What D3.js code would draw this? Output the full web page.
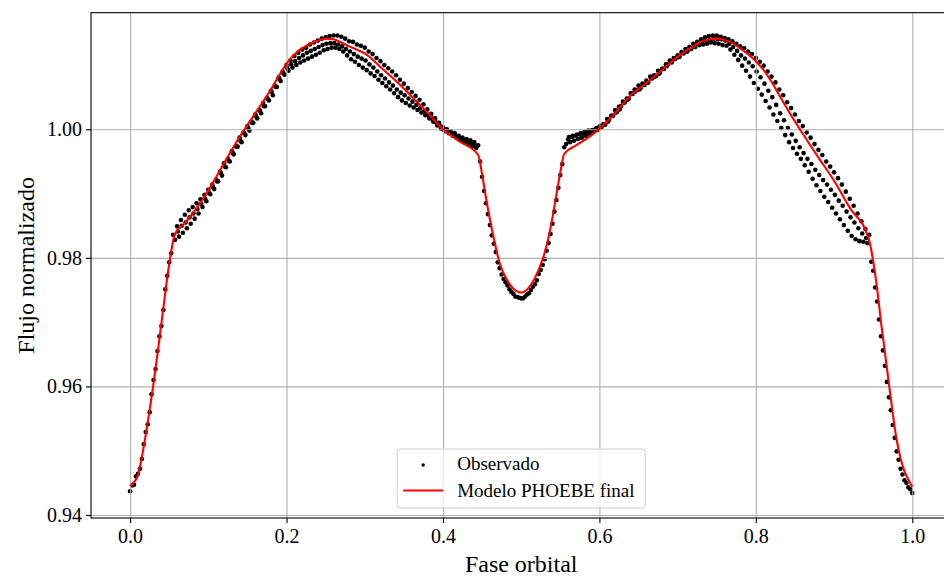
<!DOCTYPE html>
<html>
<head>
<meta charset="utf-8">
<script src="https://cdn.jsdelivr.net/npm/d3@7"></script>
<style>
  body { margin: 0; background: #fff; }
  svg { display: block; font-family: "Liberation Serif", "DejaVu Serif", serif; }
</style>
</head>
<body>
<div id="chart"></div>
<script>
// phase, normalized flux (three observed cycles)
const observedA = [[0,.9437],[.005,.9447],[.01,.9464],[.015,.9487],[.02,.9529],[.025,.9560],[.03,.9610],[.035,.9655],[.04,.9694],[.045,.9751],[.05,.9793],[.055,.9836],[.06,.9849],[.065,.9859],[.07,.9867],[.075,.9874],[.08,.9879],[.085,.9885],[.09,.9891],[.095,.9898],[.1,.9906],[.105,.9914],[.11,.9922],[.115,.9934],[.12,.9947],[.125,.9954],[.13,.9966],[.135,.9974],[.14,.9987],[.145,.9995],[.15,1.0005],[.155,1.0012],[.16,1.0023],[.165,1.0030],[.17,1.0041],[.175,1.0049],[.18,1.0060],[.185,1.0068],[.19,1.0081],[.195,1.0090],[.2,1.0100],[.205,1.0107],[.21,1.0114],[.215,1.0119],[.22,1.0124],[.225,1.0127],[.23,1.0132],[.235,1.0135],[.24,1.0138],[.245,1.0141],[.25,1.0143],[.255,1.0145],[.26,1.0146],[.265,1.0146],[.27,1.0144],[.275,1.0141],[.28,1.0137],[.285,1.0136],[.29,1.0132],[.295,1.0130],[.3,1.0127],[.305,1.0121],[.31,1.0117],[.315,1.0111],[.32,1.0106],[.325,1.0100],[.33,1.0095],[.335,1.0090],[.34,1.0084],[.345,1.0077],[.35,1.0071],[.355,1.0064],[.36,1.0058],[.365,1.0052],[.37,1.0046],[.375,1.0039],[.38,1.0031],[.385,1.0024],[.39,1.0017],[.395,1.0010],[.4,1.0003],[.405,1.0000],[.41,.9997],[.415,.9994],[.42,.9990],[.425,.9987],[.43,.9985],[.435,.9983],[.44,.9980],[.445,.9975],[.45,.9926],[.455,.9885],[.46,.9851],[.465,.9822],[.47,.9793],[.475,.9774],[.48,.9762],[.485,.9751],[.49,.9744],[.495,.9739],[.5,.9737],[.505,.9740],[.51,.9745],[.515,.9755],[.52,.9765],[.525,.9781],[.53,.9798],[.535,.9823],[.54,.9853],[.545,.9890],[.55,.9929],[.555,.9972],[.56,.9984],[.565,.9988],[.57,.9990],[.575,.9992],[.58,.9993],[.585,.9995],[.59,.9997],[.595,1.0000],[.6,1.0004],[.605,1.0008],[.61,1.0016],[.615,1.0021],[.62,1.0030],[.625,1.0035],[.63,1.0043],[.635,1.0048],[.64,1.0056],[.645,1.0062],[.65,1.0068],[.655,1.0071],[.66,1.0076],[.665,1.0082],[.67,1.0084],[.675,1.0091],[.68,1.0094],[.685,1.0101],[.69,1.0107],[.695,1.0111],[.7,1.0115],[.705,1.0120],[.71,1.0125],[.715,1.0128],[.72,1.0133],[.725,1.0136],[.73,1.0140],[.735,1.0143],[.74,1.0145],[.745,1.0146],[.75,1.0146],[.755,1.0144],[.76,1.0142],[.765,1.0140],[.77,1.0137],[.775,1.0133],[.78,1.0129],[.785,1.0126],[.79,1.0121],[.795,1.0117],[.8,1.0111],[.805,1.0105],[.81,1.0099],[.815,1.0090],[.82,1.0082],[.825,1.0073],[.83,1.0062],[.835,1.0053],[.84,1.0042],[.845,1.0033],[.85,1.0023],[.855,1.0013],[.86,1.0005],[.865,.9995],[.87,.9987],[.875,.9977],[.88,.9968],[.885,.9960],[.89,.9950],[.895,.9942],[.9,.9933],[.905,.9924],[.91,.9914],[.915,.9903],[.92,.9892],[.925,.9881],[.93,.9869],[.935,.9857],[.94,.9845],[.945,.9836],[.95,.9780],[.955,.9732],[.96,.9678],[.965,.9632],[.97,.9583],[.975,.9540],[.98,.9499],[.985,.9472],[.99,.9454],[.995,.9443],[1,.9434]];

const observedB = [[.0025,.9446],[.0075,.9460],[.0125,.9472],[.0175,.9510],[.0225,.9541],[.0275,.9588],[.0325,.9627],[.0375,.9678],[.0425,.9719],[.0475,.9772],[.0525,.9807],[.0575,.9828],[.0625,.9833],[.0675,.9839],[.0725,.9846],[.0775,.9853],[.0825,.9861],[.0875,.9869],[.0925,.9879],[.0975,.9888],[.1025,.9899],[.1075,.9907],[.1125,.9919],[.1175,.9928],[.1225,.9941],[.1275,.9950],[.1325,.9961],[.1375,.9973],[.1425,.9980],[.1475,.9991],[.1525,.9998],[.1575,1.0010],[.1625,1.0017],[.1675,1.0025],[.1725,1.0036],[.1775,1.0045],[.1825,1.0053],[.1875,1.0066],[.1925,1.0075],[.1975,1.0085],[.2025,1.0091],[.2075,1.0096],[.2125,1.0100],[.2175,1.0104],[.2225,1.0107],[.2275,1.0110],[.2325,1.0113],[.2375,1.0116],[.2425,1.0119],[.2475,1.0123],[.2525,1.0125],[.2575,1.0127],[.2625,1.0127],[.2675,1.0125],[.2725,1.0121],[.2775,1.0115],[.2825,1.0109],[.2875,1.0105],[.2925,1.0100],[.2975,1.0096],[.3025,1.0092],[.3075,1.0087],[.3125,1.0083],[.3175,1.0077],[.3225,1.0072],[.3275,1.0067],[.3325,1.0062],[.3375,1.0056],[.3425,1.0050],[.3475,1.0045],[.3525,1.0041],[.3575,1.0037],[.3625,1.0034],[.3675,1.0030],[.3725,1.0026],[.3775,1.0022],[.3825,1.0017],[.3875,1.0012],[.3925,1.0006],[.3975,1.0001],[.4025,.9997],[.4075,.9994],[.4125,.9990],[.4175,.9987],[.4225,.9983],[.4275,.9980],[.4325,.9977],[.4375,.9974],[.4425,.9971],[.4475,.9950],[.4525,.9904],[.4575,.9868],[.4625,.9835],[.4675,.9809],[.4725,.9784],[.4775,.9767],[.4825,.9757],[.4875,.9747],[.4925,.9740],[.4975,.9738],[.5025,.9737],[.5075,.9743],[.5125,.9750],[.5175,.9759],[.5225,.9775],[.5275,.9789],[.5325,.9811],[.5375,.9837],[.5425,.9872],[.5475,.9909],[.5525,.9946],[.5575,.9977],[.5625,.9980],[.5675,.9982],[.5725,.9985],[.5775,.9987],[.5825,.9990],[.5875,.9992],[.5925,.9996],[.5975,.9999],[.6025,1.0003],[.6075,1.0007],[.6125,1.0015],[.6175,1.0021],[.6225,1.0027],[.6275,1.0036],[.6325,1.0042],[.6375,1.0048],[.6425,1.0055],[.6475,1.0061],[.6525,1.0064],[.6575,1.0069],[.6625,1.0073],[.6675,1.0079],[.6725,1.0083],[.6775,1.0088],[.6825,1.0094],[.6875,1.0101],[.6925,1.0104],[.6975,1.0110],[.7025,1.0113],[.7075,1.0118],[.7125,1.0121],[.7175,1.0125],[.7225,1.0128],[.7275,1.0131],[.7325,1.0132],[.7375,1.0133],[.7425,1.0135],[.7475,1.0134],[.7525,1.0133],[.7575,1.0131],[.7625,1.0130],[.7675,1.0124],[.7725,1.0116],[.7775,1.0108],[.7825,1.0099],[.7875,1.0091],[.7925,1.0082],[.7975,1.0072],[.8025,1.0063],[.8075,1.0054],[.8125,1.0044],[.8175,1.0034],[.8225,1.0023],[.8275,1.0013],[.8325,1.0002],[.8375,.9991],[.8425,.9980],[.8475,.9971],[.8525,.9962],[.8575,.9954],[.8625,.9944],[.8675,.9934],[.8725,.9923],[.8775,.9913],[.8825,.9904],[.8875,.9895],[.8925,.9887],[.8975,.9878],[.9025,.9869],[.9075,.9860],[.9125,.9851],[.9175,.9842],[.9225,.9834],[.9275,.9829],[.9325,.9826],[.9375,.9825],[.9425,.9823],[.9475,.9794],[.9525,.9754],[.9575,.9704],[.9625,.9656],[.9675,.9607],[.9725,.9563],[.9775,.9520],[.9825,.9486],[.9875,.9463],[.9925,.9450],[.9975,.9440]];

const observedC = [[.061,.9841],[.066,.9850],[.071,.9855],[.076,.9863],[.081,.9869],[.086,.9876],[.091,.9884],[.096,.9892],[.101,.9901],[.106,.9910],[.111,.9919],[.116,.9932],[.121,.9942],[.126,.9951],[.131,.9964],[.136,.9973],[.141,.9982],[.146,.9994],[.151,1.0002],[.156,1.0010],[.161,1.0020],[.166,1.0029],[.171,1.0036],[.176,1.0047],[.181,1.0058],[.186,1.0066],[.191,1.0078],[.196,1.0087],[.201,1.0095],[.206,1.0101],[.211,1.0106],[.216,1.0111],[.221,1.0115],[.226,1.0119],[.231,1.0122],[.236,1.0125],[.241,1.0128],[.246,1.0131],[.251,1.0133],[.256,1.0134],[.261,1.0134],[.266,1.0132],[.271,1.0129],[.276,1.0125],[.281,1.0121],[.286,1.0117],[.291,1.0113],[.296,1.0110],[.301,1.0107],[.306,1.0101],[.311,1.0096],[.316,1.0090],[.321,1.0084],[.326,1.0079],[.331,1.0073],[.336,1.0068],[.341,1.0062],[.346,1.0057],[.351,1.0053],[.356,1.0048],[.361,1.0043],[.366,1.0038],[.371,1.0033],[.376,1.0028],[.381,1.0022],[.386,1.0017],[.391,1.0011],[.396,1.0006],[.401,1.0000],[.406,.9997],[.411,.9993],[.416,.9990],[.421,.9986],[.426,.9983],[.431,.9981],[.436,.9978],[.441,.9975],
  [.561,.9988],[.566,.9990],[.571,.9992],[.576,.9994],[.581,.9996],[.586,.9998],[.591,.9999],[.596,1.0002],[.601,1.0005],[.606,1.0008],[.611,1.0012],[.616,1.0021],[.621,1.0026],[.626,1.0031],[.631,1.0041],[.636,1.0046],[.641,1.0056],[.646,1.0059],[.651,1.0062],[.656,1.0070],[.661,1.0072],[.666,1.0080],[.671,1.0082],[.676,1.0086],[.681,1.0094],[.686,1.0098],[.691,1.0106],[.696,1.0109],[.701,1.0112],[.706,1.0119],[.711,1.0121],[.716,1.0127],[.721,1.0130],[.726,1.0133],[.731,1.0137],[.736,1.0138],[.741,1.0139],[.746,1.0141],[.751,1.0140],[.756,1.0140],[.761,1.0138],[.766,1.0133],[.771,1.0128],[.776,1.0122],[.781,1.0115],[.786,1.0110],[.791,1.0104],[.796,1.0098],[.801,1.0090],[.806,1.0081],[.811,1.0071],[.816,1.0060],[.821,1.0050],[.826,1.0038],[.831,1.0025],[.836,1.0014],[.841,1.0002],[.846,.9992],[.851,.9982],[.856,.9972],[.861,.9963],[.866,.9954],[.871,.9946],[.876,.9937],[.881,.9929],[.886,.9921],[.891,.9914],[.896,.9906],[.901,.9898],[.906,.9889],[.911,.9881],[.916,.9872],[.921,.9863],[.926,.9855],[.931,.9846],[.936,.9838],[.941,.9831]];

// PHOEBE model light curve
const modelCurve = [[0,.9445],[.005,.9451],[.01,.9462],[.015,.9490],[.02,.9525],[.03,.9605],[.04,.9698],[.05,.9790],[.057,.9836],[.07,.9854],[.08,.9869],[.09,.9886],[.1,.9905],[.12,.9947],[.14,.9988],[.16,1.0025],[.18,1.0062],[.19,1.0083],[.2,1.0102],[.205,1.0110],[.21,1.0116],[.215,1.0122],[.22,1.0126],[.23,1.0133],[.24,1.0138],[.25,1.0141],[.26,1.0140],[.27,1.0135],[.28,1.0129],[.29,1.0124],[.3,1.0118],[.32,1.0097],[.34,1.0075],[.36,1.0051],[.38,1.0026],[.4,1.0000],[.42,.9982],[.445,.9960],[.45,.9930],[.455,.9893],[.46,.9860],[.465,.9830],[.47,.9803],[.475,.9783],[.48,.9770],[.49,.9752],[.5,.9746],[.51,.9754],[.52,.9775],[.525,.9790],[.53,.9808],[.535,.9832],[.54,.9863],[.545,.9898],[.55,.9933],[.555,.9962],[.57,.9975],[.59,.9991],[.6,1.0001],[.62,1.0025],[.64,1.0053],[.66,1.0072],[.68,1.0092],[.7,1.0113],[.72,1.0129],[.73,1.0136],[.74,1.0140],[.75,1.0141],[.76,1.0139],[.77,1.0134],[.78,1.0126],[.79,1.0117],[.8,1.0106],[.81,1.0092],[.82,1.0074],[.83,1.0053],[.84,1.0032],[.86,.9993],[.88,.9956],[.9,.9920],[.92,.9878],[.944,.9831],[.95,.9795],[.955,.9752],[.96,.9700],[.97,.9605],[.98,.9517],[.985,.9488],[.99,.9468],[.995,.9455],[1,.9444]];

const xTicks = [0, 0.2, 0.4, 0.6, 0.8, 1.0];
const yTicks = [0.94, 0.96, 0.98, 1.00];
const xDomain = [-0.05, 1.05];
const yDomain = [0.93953, 1.01814];

const legendLabels = ["Observado", "Modelo PHOEBE final"];

const drawChart = id => {
    const width = 944;
    const height = 580;

    const svg = d3.select(id)
        .append("svg")
        .attr("width", width)
        .attr("height", height);

    // right edge of the axes lies outside the picture (cropped figure)
    const margin = { top: 12.7, right: -7.4, bottom: 62, left: 91 };
    const innerWidth = width - margin.left - margin.right;
    const innerHeight = height - margin.top - margin.bottom;

    const xScale = d3.scaleLinear().domain(xDomain).range([0, innerWidth]);
    const yScale = d3.scaleLinear().domain(yDomain).range([innerHeight, 0]);

    const g = svg.append("g")
        .attr("transform", `translate(${margin.left}, ${margin.top})`);

    // observed points
    const observed = observedA.concat(observedB, observedC);
    g.append("g").selectAll("circle").data(observed)
        .enter().append("circle")
        .attr("cx", d => xScale(d[0]))
        .attr("cy", d => yScale(d[1]))
        .attr("r", 2.3)
        .attr("fill", "black");

    // grid
    const xGrid = g.append("g")
        .attr("transform", `translate(0, ${innerHeight})`)
        .call(d3.axisBottom(xScale).tickValues(xTicks).tickSize(-innerHeight).tickFormat(""));
    const yGrid = g.append("g")
        .call(d3.axisLeft(yScale).tickValues(yTicks).tickSize(-innerWidth).tickFormat(""));
    [xGrid, yGrid].forEach(gr => {
        gr.select(".domain").remove();
        gr.selectAll("line").attr("stroke", "#b0b0b0").attr("stroke-width", 1.1);
    });

    // model
    const lineGenerator = d3.line()
        .x(d => xScale(d[0]))
        .y(d => yScale(d[1]))
        .curve(d3.curveMonotoneX);

    g.append("path")
        .attr("fill", "none")
        .attr("stroke", "red")
        .attr("stroke-width", 2.1)
        .attr("stroke-linejoin", "round")
        .attr("d", lineGenerator(modelCurve));

    // frame
    g.append("rect")
        .attr("width", innerWidth)
        .attr("height", innerHeight)
        .attr("fill", "none")
        .attr("stroke", "black")
        .attr("stroke-width", 1.1);

    const xAxisG = g.append("g")
        .attr("transform", `translate(0, ${innerHeight})`)
        .call(d3.axisBottom(xScale).tickValues(xTicks).tickFormat(d3.format(".1f")).tickSize(5).tickPadding(6));
    const yAxisG = g.append("g")
        .call(d3.axisLeft(yScale).tickValues(yTicks).tickFormat(d3.format(".2f")).tickSize(5).tickPadding(4));
    [xAxisG, yAxisG].forEach(ax => {
        ax.select(".domain").remove();
        ax.selectAll("line").attr("stroke", "black").attr("stroke-width", 1.1);
        ax.selectAll("text")
            .attr("fill", "black")
            .style("font-family", "'Liberation Serif', serif")
            .style("font-size", "20px");
    });

    g.append("text")
        .attr("x", innerWidth / 2)
        .attr("y", innerHeight + 54)
        .attr("text-anchor", "middle")
        .attr("font-size", "24px")
        .text("Fase orbital");

    g.append("text")
        .attr("transform", `translate(${-57}, ${innerHeight / 2}) rotate(-90)`)
        .attr("text-anchor", "middle")
        .attr("font-size", "24px")
        .text("Flujo normalizado");

    // legend
    const legendW = 248;
    const legendH = 59;
    const legend = g.append("g")
        .attr("transform", `translate(${innerWidth / 2 - legendW / 2}, ${innerHeight - 10 - legendH})`);

    legend.append("rect")
        .attr("width", legendW)
        .attr("height", legendH)
        .attr("rx", 3)
        .attr("fill", "white")
        .attr("fill-opacity", 0.8)
        .attr("stroke", "#cccccc")
        .attr("stroke-width", 1);

    legend.append("circle")
        .attr("cx", 26)
        .attr("cy", 16)
        .attr("r", 1.7)
        .attr("fill", "black");

    legend.append("line")
        .attr("x1", 6)
        .attr("x2", 46)
        .attr("y1", 41.5)
        .attr("y2", 41.5)
        .attr("stroke", "red")
        .attr("stroke-width", 2.1);

    legend.selectAll(".label").data(legendLabels)
        .enter().append("text")
        .attr("class", "label")
        .attr("x", 60)
        .attr("y", (d, i) => 21 + i * 27)
        .attr("font-size", "19px")
        .text(d => d);
};

drawChart("#chart");
</script>
</body>
</html>
